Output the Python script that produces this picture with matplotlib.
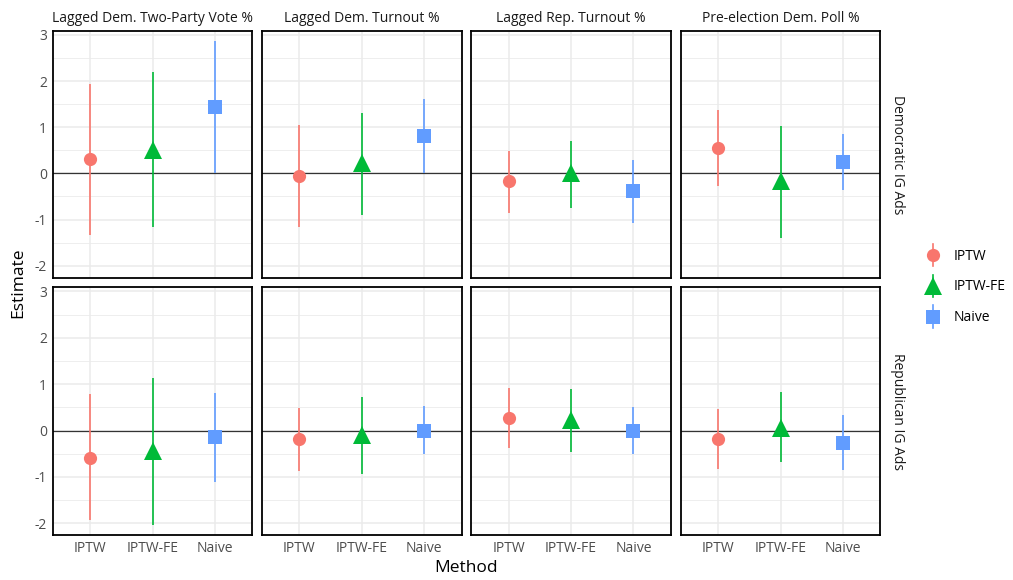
import numpy as np
import matplotlib
matplotlib.use("Agg")
import matplotlib.pyplot as plt
from matplotlib.lines import Line2D
from matplotlib.legend_handler import HandlerBase

plt.rcParams['font.family'] = ['Open Sans', 'DejaVu Sans']

# ── Data ─────────────────────────────────────────────────────────────────────
methods = ["IPTW", "IPTW-FE", "Naive"]
covariates = ["Lagged Dem. Two-Party Vote %", "Lagged Dem. Turnout %",
              "Lagged Rep. Turnout %", "Pre-election Dem. Poll %"]
ad_types = ["Democratic IG Ads", "Republican IG Ads"]

# estimate / lower / upper, rows = ad type, cols = covariate, inner = method
dem_est = [[0.31, 0.51, 1.44], [-0.06, 0.22, 0.81], [-0.17, 0.01, -0.38], [0.56, -0.17, 0.25]]
dem_lo = [[-1.33, -1.16, 0.00], [-1.16, -0.90, 0.00], [-0.85, -0.75, -1.07], [-0.28, -1.39, -0.35]]
dem_hi = [[1.94, 2.19, 2.86], [1.04, 1.31, 1.62], [0.49, 0.70, 0.30], [1.38, 1.03, 0.85]]

rep_est = [[-0.59, -0.45, -0.15], [-0.19, -0.10, 0.00], [0.27, 0.22, 0.00], [-0.18, 0.06, -0.27]]
rep_lo = [[-1.94, -2.03, -1.12], [-0.88, -0.93, -0.51], [-0.38, -0.46, -0.50], [-0.83, -0.68, -0.85]]
rep_hi = [[0.78, 1.13, 0.80], [0.49, 0.73, 0.54], [0.91, 0.90, 0.51], [0.46, 0.83, 0.33]]

estimates = [dem_est, rep_est]
lowers = [dem_lo, rep_lo]
uppers = [dem_hi, rep_hi]

colors = ["#F8766D", "#00BA38", "#619CFF"]
markers = ["o", "^", "s"]
msizes = [9.5, 12.5, 9.5]


class PointRangeHandler(HandlerBase):
    """ggplot-style pointrange key: vertical bar with the marker on top."""
    def create_artists(self, legend, orig_handle, xdescent, ydescent,
                       width, height, fontsize, trans):
        cx = width / 2 - xdescent
        cy = height / 2 - ydescent
        half = 8
        bar = Line2D([cx, cx], [cy - half, cy + half], color=orig_handle.get_color(),
                     lw=1.2, transform=trans)
        pt = Line2D([cx], [cy], marker=orig_handle.get_marker(),
                    color=orig_handle.get_color(), ms=orig_handle.get_markersize(),
                    mew=0, ls='none', transform=trans)
        return [bar, pt]


# ── Layout (pixel boxes) ─────────────────────────────────────────────────────
W, H = 1013, 580
col_left = [52.7, 262.0, 471.3, 680.7]
col_w = 199.6
row_box = [(30.7, 277.7), (287.3, 535.3)]

fig = plt.figure(figsize=(W / 100, H / 100), dpi=100)

for r in range(2):
    top, bot = row_box[r]
    for c in range(4):
        ax = fig.add_axes([col_left[c] / W, 1 - bot / H, col_w / W, (bot - top) / H])
        xs = np.arange(1, 4)
        for i in range(3):
            ax.plot([xs[i], xs[i]], [lowers[r][c][i], uppers[r][c][i]],
                    color=colors[i], lw=1.2, zorder=3, solid_capstyle='butt')
            ax.plot(xs[i], estimates[r][c][i], marker=markers[i], color=colors[i],
                    ms=msizes[i], mew=0, zorder=4, ls='none')
        ax.axhline(0, color='#333333', lw=0.9, zorder=2)
        ax.set_xlim(0.4, 3.6)
        ax.set_ylim(-2.26, 3.09)
        ax.set_yticks(range(-2, 4))
        ax.set_yticks(np.arange(-1.5, 3.0, 1.0), minor=True)
        ax.set_xticks(xs)
        ax.grid(True, which='major', color='#EBEBEB', lw=1.1, zorder=0)
        ax.grid(True, which='minor', axis='y', color='#EBEBEB', lw=0.6, zorder=0)
        ax.set_axisbelow(True)
        ax.tick_params(length=0, labelsize=10, labelcolor='#4D4D4D', pad=4)
        ax.tick_params(which='minor', length=0)
        if c == 0:
            ax.set_yticklabels([str(v) for v in range(-2, 4)])
        else:
            ax.set_yticklabels([])
        if r == 1:
            ax.set_xticklabels(methods)
        else:
            ax.set_xticklabels([])
        for sp in ax.spines.values():
            sp.set_color('black')
            sp.set_linewidth(1.3)
        if r == 0:
            ax.set_title(covariates[c], fontsize=10, color='#1A1A1A', pad=6)
        if c == 3:
            ax.text(1.05, 0.5, ad_types[r], transform=ax.transAxes, rotation=-90,
                    ha='left', va='center', fontsize=10, color='#1A1A1A')

fig.text(18 / W, 1 - 283 / H, "Estimate", rotation=90, ha='center', va='center',
         fontsize=12.5)
fig.text(466 / W, 1 - 568 / H, "Method", ha='center', va='center', fontsize=12.5)

handles = [Line2D([0], [0], color=colors[i], marker=markers[i], ms=msizes[i],
                  mew=0, lw=1.2) for i in range(3)]
fig.legend(handles, methods, loc='center left', bbox_to_anchor=(912 / W, 1 - 287 / H),
           frameon=False, fontsize=10, handlelength=1.2, handletextpad=0.9,
           labelspacing=1.15, handler_map={Line2D: PointRangeHandler()})

fig.savefig("out.png", dpi=100)
